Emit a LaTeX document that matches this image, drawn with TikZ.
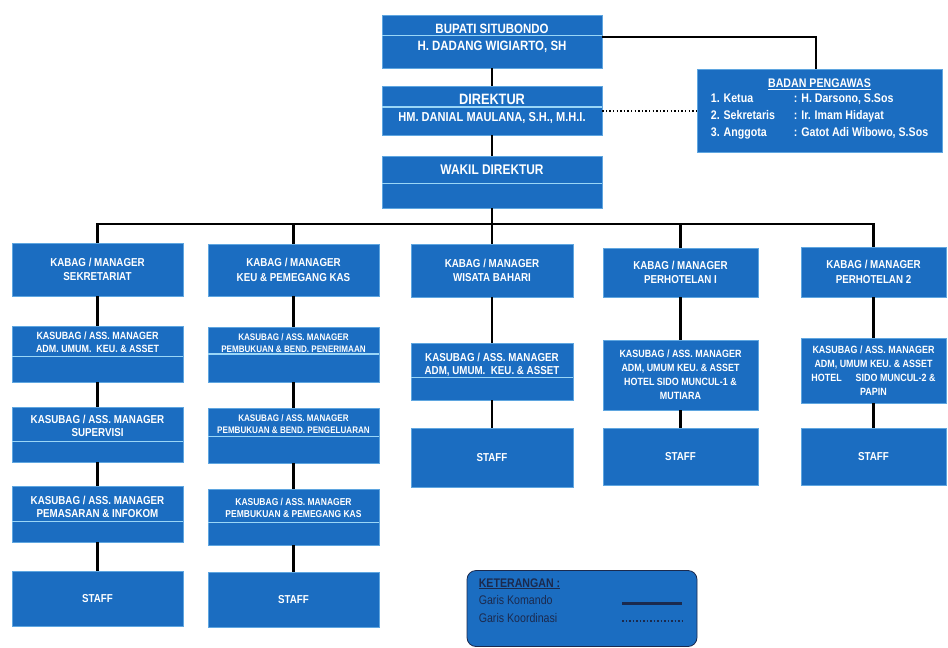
\documentclass[tikz,border=0pt]{standalone}
\usepackage{fontspec}
\setmainfont{Liberation Sans}
\newfontfamily\narrowfont[FakeStretch=0.85]{Liberation Sans}
\usetikzlibrary{positioning, calc}

\definecolor{boxblue}{HTML}{1B6DC1}
\definecolor{edgeblue}{HTML}{5FA6E0}
\definecolor{lineblue}{HTML}{9AD6F7}
\definecolor{navy}{HTML}{1B2A4E}

\newcommand\bx[2]{\narrowfont\bfseries\fontsize{#1}{#2}\selectfont}

\begin{document}
\begin{tikzpicture}[x=1pt, y=-1pt,
    unit/.style={draw=edgeblue, line width=0.5pt, fill=boxblue, text=white, align=center, inner sep=0pt, font=\bx{11.5}{14.5}},
    boxtxt/.style={text=white, align=center, inner sep=0pt},
    divider/.style={draw=lineblue, line width=1.1pt},
    komando/.style={draw=black, line width=2.6pt},
    koordinasi/.style={draw=black, line width=2.2pt, dash pattern=on 1.4pt off 2.2pt}]
    \useasboundingbox (0,0) rectangle (948,648);

    % pimpinan
    \node[unit, minimum width=220, minimum height=53] (bupati) at (492,41.5) {};
    \node[boxtxt, font=\bx{13.5}{16}] (bupatit) at ($(bupati.north)!0.27!(bupati.south)$) {BUPATI SITUBONDO};
    \node[boxtxt, font=\bx{13.5}{16}] (bupatin) at ($(bupati.north)!0.60!(bupati.south)$) {H. DADANG WIGIARTO, SH};
    \node[unit, minimum width=220, minimum height=49] (direktur) at (492,110.5) {};
    \node[boxtxt, font=\bx{15}{17}] (direkturt) at ($(direktur.north)!0.27!(direktur.south)$) {DIREKTUR};
    \node[boxtxt, font=\bx{13}{15}] (direkturn) at ($(direktur.north)!0.65!(direktur.south)$) {HM. DANIAL MAULANA, S.H., M.H.I.};
    \node[unit, minimum width=220, minimum height=52] (wakil) at (492,182) {};
    \node[boxtxt, font=\bx{14}{16}] (wakilt) at ($(wakil.north)!0.27!(wakil.south)$) {WAKIL DIREKTUR};

    \node[unit, minimum width=245, minimum height=83, font=\bx{12.5}{17}] (badan) at (819.5,110.5)
        {\underline{BADAN PENGAWAS}\\
         \begin{tabular}{@{}p{83pt}@{}l@{}}
         1. Ketua & : H. Darsono, S.Sos\\
         2. Sekretaris & : Ir. Imam Hidayat\\
         3. Anggota & : Gatot Adi Wibowo, S.Sos
         \end{tabular}};

    % kabag
    \node[unit, minimum width=171, minimum height=53] (kb1) at (97.5,269.5) {KABAG / MANAGER\\SEKRETARIAT};
    \node[unit, minimum width=171, minimum height=52] (kb2) at (293.5,270) {KABAG / MANAGER\\KEU \& PEMEGANG KAS};
    \node[unit, minimum width=162, minimum height=53] (kb3) at (492,270.5) {KABAG / MANAGER\\WISATA BAHARI};
    \node[unit, minimum width=155, minimum height=49] (kb4) at (680.5,272.5) {KABAG / MANAGER\\PERHOTELAN I};
    \node[unit, minimum width=145, minimum height=50] (kb5) at (873.5,272) {KABAG / MANAGER\\PERHOTELAN 2};

    % kasubag dan staff
    \node[unit, minimum width=171, minimum height=56] (s11) at (97.5,354) {};
    \node[boxtxt, font=\bx{10.5}{13}] (s11t) at ($(s11.north)!0.30!(s11.south)$) {KASUBAG / ASS. MANAGER\\ADM. UMUM.\ \ KEU. \& ASSET};
    \node[unit, minimum width=171, minimum height=55] (s12) at (97.5,434.5) {};
    \node[boxtxt, font=\bx{11.5}{13}] (s12t) at ($(s12.north)!0.35!(s12.south)$) {KASUBAG / ASS. MANAGER\\SUPERVISI};
    \node[unit, minimum width=171, minimum height=56] (s13) at (97.5,514) {};
    \node[boxtxt, font=\bx{11.5}{13}] (s13t) at ($(s13.north)!0.375!(s13.south)$) {KASUBAG / ASS. MANAGER\\PEMASARAN \& INFOKOM};
    \node[unit, minimum width=171, minimum height=55] (st1) at (97.5,598.5) {STAFF};

    \node[unit, minimum width=171, minimum height=55] (s21) at (293.5,354.5) {};
    \node[boxtxt, font=\bx{9.5}{12}] (s21t) at ($(s21.north)!0.29!(s21.south)$) {KASUBAG / ASS. MANAGER\\PEMBUKUAN \& BEND. PENERIMAAN};
    \node[unit, minimum width=171, minimum height=55] (s22) at (293.5,435.5) {};
    \node[boxtxt, font=\bx{9.5}{12}] (s22t) at ($(s22.north)!0.29!(s22.south)$) {KASUBAG / ASS. MANAGER\\PEMBUKUAN \& BEND. PENGELUARAN};
    \node[unit, minimum width=171, minimum height=56] (s23) at (293.5,517) {};
    \node[boxtxt, font=\bx{10}{12.5}] (s23t) at ($(s23.north)!0.34!(s23.south)$) {KASUBAG / ASS. MANAGER\\PEMBUKUAN \& PEMEGANG KAS};
    \node[unit, minimum width=171, minimum height=55] (st2) at (293.5,599.5) {STAFF};

    \node[unit, minimum width=162, minimum height=57] (s31) at (492,371.5) {};
    \node[boxtxt, font=\bx{11.5}{13.5}] (s31t) at ($(s31.north)!0.38!(s31.south)$) {KASUBAG / ASS. MANAGER\\ADM, UMUM.\ \ KEU. \& ASSET};
    \node[unit, minimum width=162, minimum height=59] (st3) at (492,457.5) {STAFF};

    \node[unit, minimum width=155, minimum height=70, font=\bx{10.5}{14}] (s41) at (680.5,375)
        {KASUBAG / ASS. MANAGER\\ADM, UMUM KEU. \& ASSET\\HOTEL SIDO MUNCUL-1 \&\\MUTIARA};
    \node[unit, minimum width=155, minimum height=57] (st4) at (680.5,456.5) {STAFF};

    \node[unit, minimum width=145, minimum height=65, font=\bx{10.5}{14}] (s51) at (873.5,370.5)
        {KASUBAG / ASS. MANAGER\\ADM, UMUM KEU. \& ASSET\\HOTEL\hspace{14pt}SIDO MUNCUL-2 \&\\PAPIN};
    \node[unit, minimum width=145, minimum height=57] (st5) at (873.5,456.5) {STAFF};

    \foreach \n/\f in {bupati/0.38, direktur/0.43, wakil/0.52, s11/0.54, s12/0.62, s13/0.64,
                       s21/0.49, s22/0.51, s23/0.59, s31/0.60}
        \draw[divider] ($(\n.north west)!\f!(\n.south west)$) -- ($(\n.north east)!\f!(\n.south east)$);

    % garis komando
    \coordinate (bus) at (0,224);
    \coordinate (bpr) at (816,37);
    \coordinate (dk) at (0,111);
    \draw[komando] (bupati) -- (direktur);
    \draw[komando] (direktur) -- (wakil);
    \draw[komando] (wakil) -- (wakil.south |- bus);
    \draw[komando] (kb1.north) -- (kb1.north |- bus) -- (kb5.north |- bus) -- (kb5.north);
    \foreach \k in {kb2,kb3,kb4}
        \draw[komando] (\k.north |- bus) -- (\k);
    \foreach \a/\b in {kb1/s11, s11/s12, s12/s13, s13/st1, kb2/s21, s21/s22, s22/s23, s23/st2,
                       kb3/s31, s31/st3, kb4/s41, s41/st4, kb5/s51, s51/st5}
        \draw[komando] (\a) -- (\b);
    \draw[komando] (bupati.east |- bpr) -| (badan.north -| bpr);

    % garis koordinasi
    \draw[koordinasi] (direktur.east |- dk) -- (badan.west |- dk);

    % keterangan
    \node[draw=navy, line width=0.8pt, fill=boxblue, rounded corners=9pt, minimum width=230, minimum height=76] (ket) at (582,608.5) {};
    \node[anchor=north west, align=left, text=navy, inner sep=0pt, font=\narrowfont\fontsize{12.5}{17.5}\selectfont] (kett)
        at ($(ket.north west)+(12,8)$) {\underline{\textbf{KETERANGAN :}}\\Garis Komando\\Garis Koordinasi};
    \coordinate (ka) at (622,603);
    \coordinate (kb) at (682,603);
    \coordinate (kc) at (622,621);
    \coordinate (kd) at (682,621);
    \draw[komando, draw=navy, line width=3pt] (ka) -- (kb);
    \draw[koordinasi, draw=navy, line width=2pt, dash pattern=on 1.5pt off 2pt] (kc) -- (kd);
\end{tikzpicture}
\end{document}
